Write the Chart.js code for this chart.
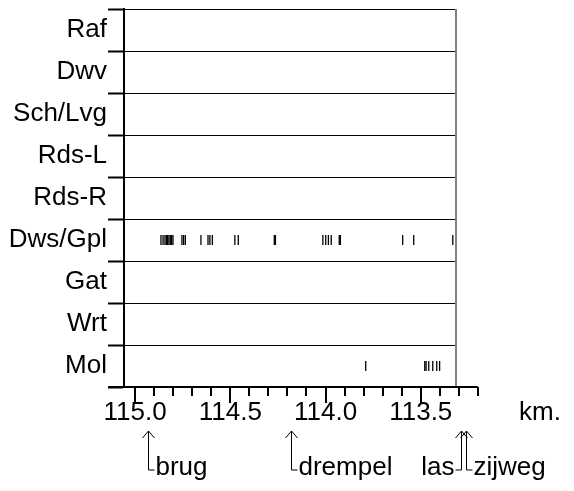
<!DOCTYPE html>
<html><head><meta charset="utf-8">
<script src="https://cdn.jsdelivr.net/npm/chart.js@4/dist/chart.umd.min.js"></script>
<style>html,body{margin:0;padding:0;background:#fff}</style>
</head><body>
<canvas id="c" width="574" height="491"></canvas>
<script>
// ---- data ----
const rows = ['Raf','Dwv','Sch/Lvg','Rds-L','Rds-R','Dws/Gpl','Gat','Wrt','Mol'];
const dwsGplKm = [114.864,114.853,114.843,114.835,114.829,114.822,114.815,114.808,114.801,
                  114.754,114.745,114.736,114.654,114.617,114.607,114.594,114.476,114.458,
                  114.269,114.263,114.014,113.999,113.985,113.970,113.928,113.922,
                  113.595,113.537,113.332];
const molKm = [113.789,113.479,113.472,113.458,113.437,113.416,113.401];
const majorTickKm = [115.0,114.5,114.0,113.5];
const minorStepKm = 0.1;
const axisFromKm = 115.14, axisToKm = 113.2, tickLastKm = 113.2;
const plotMaxKm = 115.058, plotMinKm = 113.315;
const unitLabel = 'km.';
const landmarkNames = ['brug','drempel','las','zijweg'];
const landmarkKm = [114.93,114.18,113.29,113.26];
const landmarkSide = ['right','right','left','right'];

const FONT = '"Liberation Sans", Arial, Helvetica, sans-serif';
const FS = 26;

const framePlugin = {
  id:'frame',
  afterDraw(chart){
    const {ctx, chartArea:a, scales:{x}} = chart;
    ctx.save();
    // right grey border
    ctx.strokeStyle = '#808080'; ctx.lineWidth = 2;
    ctx.beginPath(); ctx.moveTo(a.right, a.top); ctx.lineTo(a.right, a.bottom); ctx.stroke();
    // bottom axis line
    ctx.strokeStyle = '#000'; ctx.lineWidth = 2;
    ctx.beginPath();
    ctx.moveTo(x.getPixelForValue(axisFromKm), a.bottom);
    ctx.lineTo(x.getPixelForValue(axisToKm), a.bottom);
    ctx.stroke();
    // ticks
    const start = majorTickKm[0];
    const n = Math.round((start - tickLastKm)/minorStepKm);
    for(let i=0;i<=n;i++){
      const v = start - i*minorStepKm;
      const major = majorTickKm.some(m=>Math.abs(m-v)<1e-6);
      const px = Math.round(x.getPixelForValue(v));
      ctx.beginPath(); ctx.moveTo(px, a.bottom); ctx.lineTo(px, a.bottom + (major?16:9)); ctx.stroke();
    }
    // unit label
    ctx.fillStyle = '#000';
    ctx.font = FS + 'px ' + FONT;
    ctx.textAlign = 'right'; ctx.textBaseline = 'middle';
    ctx.fillText(unitLabel, chart.width - 13, a.bottom + 26);
    // landmarks
    ctx.lineWidth = 1;
    const tipY = a.bottom + 44, elbowY = a.bottom + 83;
    landmarkNames.forEach((name,i)=>{
      const px = Math.round(x.getPixelForValue(landmarkKm[i])) + 0.5;
      ctx.beginPath();
      ctx.moveTo(px-6, tipY+7); ctx.lineTo(px, tipY); ctx.lineTo(px+6, tipY+7);
      ctx.moveTo(px, tipY); ctx.lineTo(px, elbowY);
      const dir = landmarkSide[i]==='left' ? -1 : 1;
      ctx.lineTo(px + dir*6, elbowY);
      ctx.stroke();
      ctx.textAlign = dir>0 ? 'left' : 'right';
      ctx.textBaseline = 'middle';
      ctx.fillText(name, px + dir*7, elbowY - 2);
    });
    ctx.restore();
  }
};

new Chart(document.getElementById('c'), {
  type:'scatter',
  data:{datasets:[
    {data: dwsGplKm.map(k=>({x:k, y:'Dws/Gpl'}))},
    {data: molKm.map(k=>({x:k, y:'Mol'}))}
  ]},
  options:{
    responsive:false, animation:false, devicePixelRatio:1,
    layout:{padding:{top:9, right:118, left:0, bottom:0}},
    plugins:{legend:{display:false}, tooltip:{enabled:false}},
    elements:{point:{pointStyle:'line', rotation:90, radius:5, hoverRadius:5, borderWidth:1.3, borderColor:'#000', backgroundColor:'#000'}},
    scales:{
      x:{type:'linear', reverse:true, min:plotMinKm, max:plotMaxKm,
         grid:{display:false, drawTicks:false}, border:{display:false},
         afterBuildTicks(s){ s.ticks = majorTickKm.map(v=>({value:v})); },
         ticks:{callback:v=>Number(v).toFixed(1), font:{size:FS, family:FONT}, color:'#000', padding:10, maxRotation:0, autoSkip:false},
         afterFit(s){ s.height = 104; s.paddingLeft = 0; s.paddingRight = 0; }},
      y:{type:'category', labels:rows, offset:true,
         grid:{offset:true, color:'#000', lineWidth:1, tickWidth:2, tickLength:16, tickColor:'#000', drawTicks:true},
         border:{display:true, color:'#000', width:2},
         ticks:{font:{size:FS, family:FONT}, color:'#000', padding:1},
         afterFit(s){ s.width = 124; s.paddingTop = 0; s.paddingBottom = 0; }}
    }
  },
  plugins:[framePlugin]
});
</script>
</body></html>
